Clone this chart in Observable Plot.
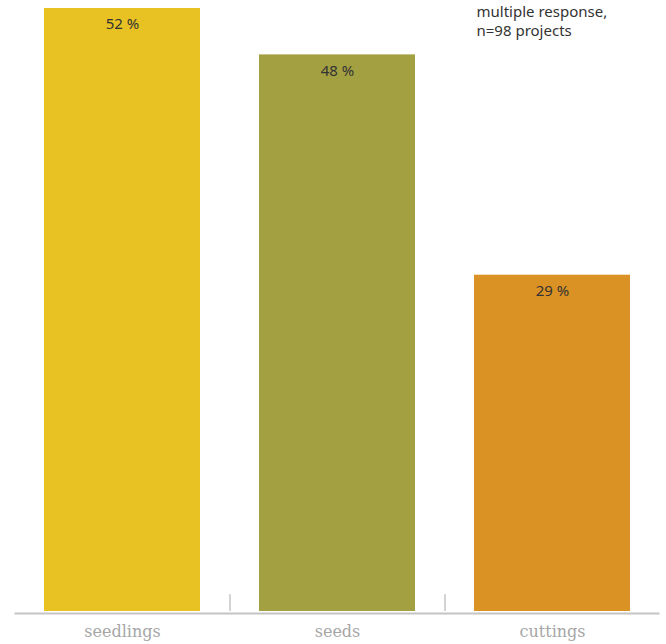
<!DOCTYPE html>
<html>
<head>
<meta charset="utf-8">
<script src="https://cdn.jsdelivr.net/npm/d3@7"></script>
<script src="https://cdn.jsdelivr.net/npm/@observablehq/plot@0.6"></script>
<style>
  html, body { margin: 0; padding: 0; background: #fff; }
  #chart { width: 666px; height: 644px; }
</style>
</head>
<body>
<div id="chart"></div>
<script>
const categories = ["seedlings", "seeds", "cuttings"];
const values = [52, 48, 29];
const colors = ["#E8C122", "#A3A042", "#DA9225"];
const noteLines = ["multiple response,", "n=98 projects"];

const data = categories.map((c, i) => ({category: c, value: values[i], color: colors[i]}));

const W = 666, H = 644;
const mL = 14.5, mR = 6.5, mT = 8, mB = 33;
const step = (W - mL - mR) / categories.length;

const chart = Plot.plot({
  width: W,
  height: H,
  marginLeft: mL,
  marginRight: mR,
  marginTop: mT,
  marginBottom: mB,
  style: {background: "#fff", overflow: "visible"},
  x: {domain: categories, paddingInner: 0.274, paddingOuter: 0.137, label: null},
  y: {domain: [0, d3.max(values)], axis: null},
  color: {type: "identity"},
  marks: [
    Plot.barY(data, {x: "category", y: "value", fill: "color"}),
    Plot.ruleY([0], {stroke: "#c4c4c4", strokeWidth: 2, dy: 2}),
    Plot.ruleX(categories.slice(1), {x: d => d, dx: -step / 2, y1: 0, y2: 1.45, stroke: "#a8a8a8", strokeWidth: 1}),
    Plot.text(data, {x: "category", y: "value", text: d => `${d.value} %`, dy: 16, fill: "#333", fontSize: 15, fontFamily: "Noto Sans"}),
    Plot.axisX({tickSize: 0, tickPadding: 14, fontSize: 16, fill: "#a6a6a6", fontFamily: "DejaVu Serif", fontWeight: 300, label: null}),
    Plot.text([noteLines.join("\n")], {frameAnchor: "top-right", textAnchor: "start", lineAnchor: "top", dx: -183.5, dy: -5, fontSize: 15, lineHeight: 1.25, fill: "#333", fontFamily: "Noto Sans"})
  ]
});
document.getElementById("chart").appendChild(chart);
</script>
</body>
</html>
